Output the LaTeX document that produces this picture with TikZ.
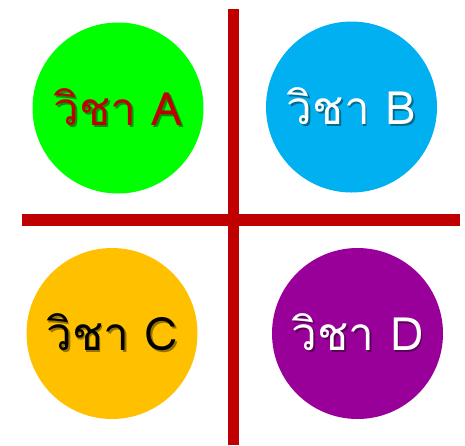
\documentclass[tikz,border=0pt]{standalone}
\usepackage{fontspec}
\newfontfamily\thaifont[Script=Thai]{Loma}
\definecolor{barred}{HTML}{C00000}
\definecolor{subjA}{HTML}{00FF00}
\definecolor{subjB}{HTML}{00B0F0}
\definecolor{subjC}{HTML}{FFC000}
\definecolor{subjD}{HTML}{990099}
\tikzset{
  subject/.style={circle, minimum size=171pt, inner sep=0pt},
  label/.style={font=\thaifont\fontsize{46}{50}\selectfont},
}
% text with a soft drop shadow (shadow colour, text)
\newcommand{\shadowed}[2]{%
  \rlap{\hspace{1.8pt}\raisebox{-2pt}{\textcolor{#1}{#2}}}#2}
\begin{document}
\begin{tikzpicture}[x=1pt,y=-1pt]
    \useasboundingbox (0,0) rectangle (465,445);
    \draw[line width=11pt, barred] (233.5,9) -- (233.5,445);
    \draw[line width=12pt, barred] (22,220) -- (460,220);
    \node[subject, fill=subjA] (a) at (118,108) {};
    \node[subject, fill=subjB] (b) at (351.5,107) {};
    \node[subject, fill=subjC] (c) at (112,333.5) {};
    \node[subject, fill=subjD] (d) at (357.5,333.5) {};
    \node[label, text=barred] (la) at (a) {\shadowed{subjA!60!black}{วิชา A}};
    \node[label, text=white] (lb) at (b) {\shadowed{subjB!60!black}{วิชา B}};
    \node[label, text=black] (lc) at (c) {\shadowed{subjC!60!black}{วิชา C}};
    \node[label, text=white] (ld) at (d) {\shadowed{subjD!60!black}{วิชา D}};
\end{tikzpicture}
\end{document}
